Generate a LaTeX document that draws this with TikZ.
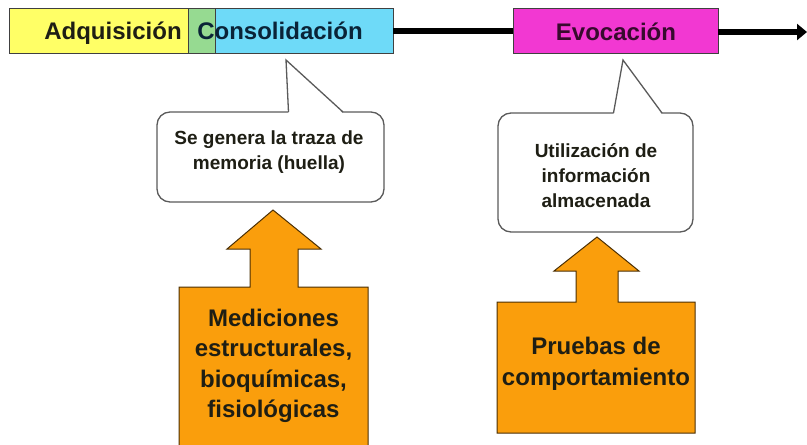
\documentclass[tikz,border=0pt]{standalone}
\usepackage{fontspec}
\setmainfont{Liberation Sans}
\usetikzlibrary{arrows.meta}
\definecolor{barYellow}{RGB}{255,255,102}
\definecolor{barGreen}{RGB}{150,218,145}
\definecolor{barCyan}{RGB}{110,218,248}
\definecolor{barMagenta}{RGB}{242,56,210}
\definecolor{boxOrange}{RGB}{250,158,12}
\definecolor{txtDark}{RGB}{30,30,20}
\definecolor{txtNavy}{RGB}{10,35,55}
\definecolor{txtPurple}{RGB}{55,10,45}
\definecolor{calloutLine}{RGB}{90,90,90}
\begin{document}
\begin{tikzpicture}[x=1pt,y=-1pt,
  seg/.style={draw=black!75, line width=0.8pt, anchor=north west, minimum height=45pt, inner sep=0pt, outer sep=0pt},
  bartext/.style={anchor=base, inner sep=0pt, font=\bfseries\fontsize{24}{28}\selectfont},
  connector/.style={line width=6.5pt, black},
  calloutbody/.style={fill=white, draw=calloutLine, line width=1.3pt, rounded corners=13pt},
  calloutptr/.style={draw=calloutLine, line width=1.3pt, line join=miter},
  callouttext/.style={align=center, inner sep=0pt, text=txtDark, font=\bfseries\fontsize{19}{25}\selectfont},
  bigarrow/.style={fill=boxOrange, draw=black!70!boxOrange, line width=1pt, line join=miter},
  arrowtext/.style={align=center, inner sep=0pt, text=txtDark, font=\bfseries\fontsize{24}{30.5}\selectfont}
]
\useasboundingbox (0,0) rectangle (807,445);

% top bar
\node[seg, fill=barYellow, minimum width=179pt] (adq) at (9,8) {};
\node[seg, fill=barGreen, minimum width=27pt] (consg) at (188,8) {};
\node[seg, fill=barCyan, minimum width=178pt] (cons) at (215,8) {};
\node[seg, fill=barMagenta, minimum width=205pt] (evo) at (513,8) {};
\node[bartext, text=txtDark] (adqtxt) at (113,39.5) {Adquisición};
\node[bartext, text=txtNavy] (constxt) at (280,39.5) {Consolidación};
\node[bartext, text=txtPurple] (evotxt) at (616,40) {Evocación};

\coordinate (end) at (807,32);
\draw[connector] (cons.east |- 0,31) -- (evo.west |- 0,31);
\draw[connector, -{Triangle[length=10pt,width=16pt]}] (evo.east |- end) -- (end);

% callout 1
\draw[calloutbody] (157,112) rectangle (384,202);
\fill[white] (288.5,113.5) -- (286,60) -- (343,113.5) -- cycle;
\draw[calloutptr] (288.5,112) -- (286,60) -- (343,112);
\node[callouttext] (c1) at (269,152) {Se genera la traza de\\memoria (huella)};

% callout 2
\draw[calloutbody] (498,113) rectangle (693,232);
\fill[white] (613.5,114.5) -- (623,60) -- (662,114.5) -- cycle;
\draw[calloutptr] (613.5,113) -- (623,60) -- (662,113);
\node[callouttext] (c2) at (596,176) {Utilización de\\información\\almacenada};

% orange arrow 1
\fill[boxOrange] (179,446) -- (179,287) -- (250,287) -- (250,249) -- (227,249) -- (273,210) -- (321,249) -- (298,249) -- (298,287) -- (368,287) -- (368,446) -- cycle;
\draw[bigarrow, fill=none] (179,446) -- (179,287) -- (250,287) -- (250,249) -- (227,249) -- (273,210) -- (321,249) -- (298,249) -- (298,287) -- (368,287) -- (368,446);
\node[arrowtext] (m1) at (273.5,366) {Mediciones\\estructurales,\\bioquímicas,\\fisiológicas};

% orange arrow 2
\draw[bigarrow] (497,433) -- (497,302) -- (576,302) -- (576,271) -- (554,271) -- (597,237) -- (639,271) -- (618,271) -- (618,302) -- (695,302) -- (695,433) -- cycle;
\node[arrowtext] (m2) at (596,364) {Pruebas de\\comportamiento};
\end{tikzpicture}
\end{document}
